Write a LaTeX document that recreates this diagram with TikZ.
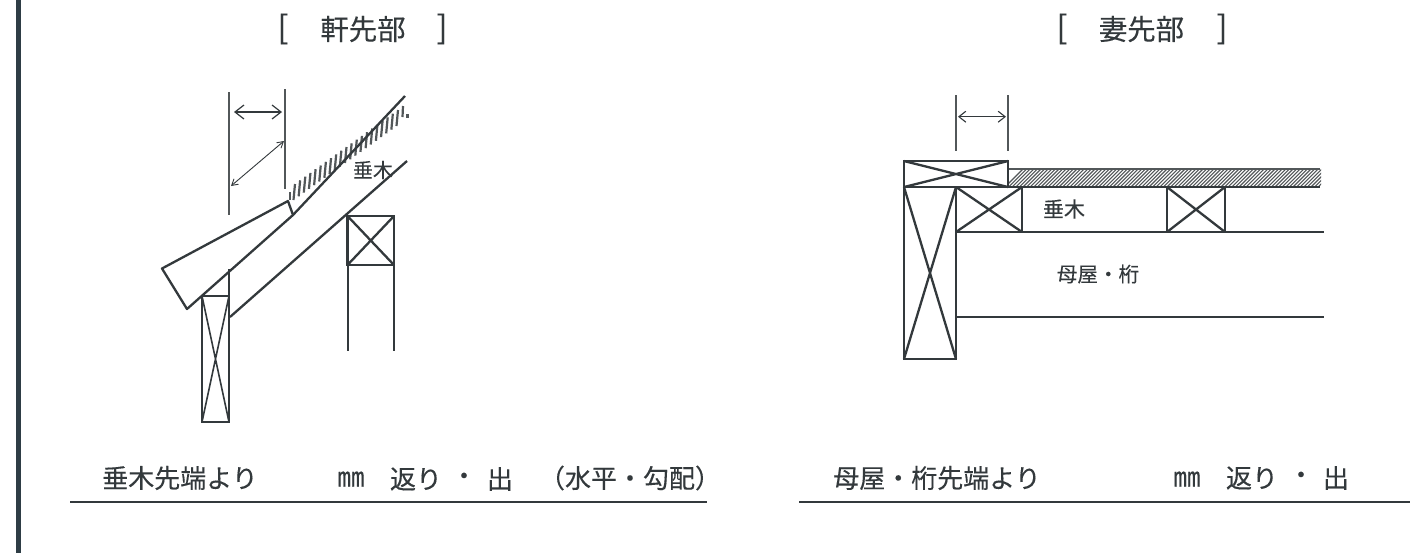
\documentclass[tikz,border=0pt]{standalone}
\usepackage{fontspec}
\setmainfont[FakeBold=0.25]{Noto Sans CJK JP}
\usetikzlibrary{arrows.meta,calc}
\definecolor{ink}{HTML}{33393C}
\definecolor{barcol}{HTML}{2E3D45}
\tikzset{
  txt/.style={text=ink,inner sep=0pt,font=\fontsize{#1 pt}{#1 pt}\selectfont},
  txt/.default=13,
  wood/.style={draw=ink,line width=1.15pt},
  thin/.style={draw=ink,line width=.8pt},
  dimline/.style={draw=ink!85,line width=.7pt},
  bigarrow/.style={draw=ink,line width=.6pt,{Straight Barb[length=4.5pt,width=7pt]}-{Straight Barb[length=4.5pt,width=7pt]}},
  midarrow/.style={draw=ink,line width=.55pt,{Straight Barb[length=3.5pt,width=5.5pt]}-{Straight Barb[length=3.5pt,width=5.5pt]}},
  smallarrow/.style={draw=ink,line width=.45pt,{Straight Barb[length=3pt,width=3.5pt]}-{Straight Barb[length=3pt,width=3.5pt]}},
  hatchline/.style={draw=ink!85,line width=1.1pt},
}
\newcommand{\crossbox}[5][wood]{%
  \draw[#1] (#2,#3) rectangle (#4,#5);
  \draw[#1] (#2,#3) -- (#4,#5) (#2,#5) -- (#4,#3);
}
\begin{document}
\begin{tikzpicture}[x=0.5pt,y=-0.5pt]
\useasboundingbox[fill=white] (0,0) rectangle (1421,553);
% left frame bar
\fill[barcol] (16,0) rectangle (21,553);

% titles
\node[txt=16,anchor=center] (tl1) at (283,29) {[};
\node[txt=14.2,anchor=center] (tl2) at (363,29) {軒先部};
\node[txt=16,anchor=center] (tl3) at (442,29) {]};
\node[txt=16,anchor=center] (tr1) at (1062,29) {[};
\node[txt=14.2,anchor=center] (tr2) at (1141.5,29) {妻先部};
\node[txt=16,anchor=center] (tr3) at (1222,29) {]};

% ---- left detail ----
\draw[dimline] (229,92) -- (229,215);
\draw[dimline] (285,89) -- (285,189);
\draw[bigarrow] (234,112) -- (282,112);
\draw[smallarrow] (284,141) -- (231,186);

% hatching
\foreach \i in {0,...,20}{
  \pgfmathsetmacro{\xa}{295+\i*5.15}
  \pgfmathsetmacro{\ya}{184+\i*5.15*(-74/103)}
  \draw[hatchline] (\xa,\ya) -- ({\xa-1.5},{\ya+16});
}
\draw[hatchline] (290,192) -- (290,200);
\draw[hatchline] (403,106) -- (402.5,117);
\draw[hatchline] (407.5,114) -- (407.5,118);

% rafter, wedge
\draw[wood,line join=round] (293,215) -- (288,201) -- (162,268.5) -- (187,309) -- (293,215) -- (405,96);
\draw[wood] (230,317) -- (407,161);
\node[txt=10,anchor=center] (t1) at (373,170) {垂木};

% eave post
\draw[thin] (229,269) -- (229,296);
\draw[thin] (202,296) rectangle (229,422);
\draw[thin] (202,296) -- (229,422) (229,296) -- (202,422);

% inner post
\crossbox[wood]{347.5}{216}{394}{265}
\draw[thin] (348,265) -- (348,351) (394,265) -- (394,351);

% ---- right detail ----
\draw[dimline] (956,95) -- (956,151);
\draw[dimline] (1008,95) -- (1008,151);
\draw[midarrow] (958,116.7) -- (1006,116.7);

% hatched strip
\begin{scope}
  \clip (1009,169) rectangle (1321,187);
  \foreach \i in {0,...,95}{
    \pgfmathsetmacro{\xa}{1005+\i*3.6}
    \draw[draw=ink!85,line width=.55pt] (\xa,187) -- ({\xa+18},169);
  }
\end{scope}
\draw[draw=ink!85,line width=.9pt] (1009,169) -- (1320,169);
\draw[wood] (1008,187) -- (1320,187);
\draw[wood] (956,232) -- (1324,232);
\draw[wood] (956,317) -- (1324,317);

\crossbox{904}{161}{1008}{187}
\crossbox{904}{187}{956}{359}
\crossbox{956}{187}{1022}{232}
\crossbox{1167}{187}{1225}{232}

\node[txt=10.5,anchor=center] (t2) at (1064,209) {垂木};
\node[txt=10.3,anchor=center] (t3) at (1098,274) {母屋・桁};

% ---- captions ----
\node[txt=13,anchor=center] (c1) at (180,478) {垂木先端より};
\node[txt=13.5,anchor=center] (c2) at (351,479) {㎜};
\node[txt=13,anchor=center] (c3) at (416,479) {返り};
\node[txt=13,anchor=center] (c4) at (464,479) {・};
\node[txt=13,anchor=center] (c5) at (500,479) {出};
\node[txt=13,anchor=center] (c6) at (630,478) {（水平・勾配）};
\draw[wood] (70,502) -- (707,502);

\node[txt=13,anchor=center] (d1) at (937,478) {母屋・桁先端より};
\node[txt=13.5,anchor=center] (d2) at (1187,479) {㎜};
\node[txt=13,anchor=center] (d3) at (1252,478) {返り};
\node[txt=13,anchor=center] (d4) at (1301,478) {・};
\node[txt=13,anchor=center] (d5) at (1336,478) {出};
\draw[wood] (799,502) -- (1410,502);
\end{tikzpicture}
\end{document}
